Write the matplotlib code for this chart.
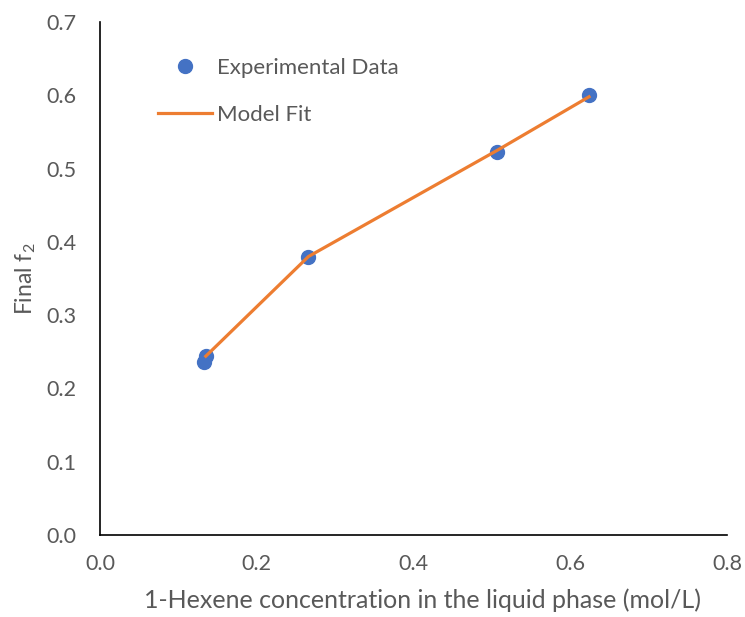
import matplotlib
matplotlib.use("Agg")
import matplotlib.pyplot as plt

plt.rcParams['font.family'] = ['Lato', 'DejaVu Sans']
plt.rcParams['mathtext.fontset'] = 'custom'
plt.rcParams['mathtext.rm'] = 'Lato'
plt.rcParams['mathtext.it'] = 'Lato'

# Measured values
exp_x = [0.133, 0.135, 0.266, 0.507, 0.624]
exp_y = [0.236, 0.244, 0.379, 0.522, 0.601]

# Model predictions
fit_x = [0.135, 0.266, 0.507, 0.624]
fit_y = [0.244, 0.380, 0.525, 0.598]

x_ticks = [0.0, 0.2, 0.4, 0.6, 0.8]
y_ticks = [0.0, 0.1, 0.2, 0.3, 0.4, 0.5, 0.6, 0.7]

text_color = '#595959'
blue = '#4472C4'
orange = '#ED7D31'

fig = plt.figure(figsize=(7.45, 6.17), dpi=100)
ax = fig.add_axes([0.1342, 0.1329, 0.8416, 0.8314])

ax.plot(exp_x, exp_y, 'o', color=blue, markersize=10, label='Experimental Data', zorder=2)
ax.plot(fit_x, fit_y, '-', color=orange, linewidth=2.3, label='Model Fit', zorder=3)

ax.set_xlim(0, 0.8)
ax.set_ylim(0, 0.7)
ax.set_xticks(x_ticks)
ax.set_xticklabels([f'{v:.1f}' for v in x_ticks])
ax.set_yticks(y_ticks)
ax.set_yticklabels([f'{v:.1f}' for v in y_ticks])
ax.tick_params(length=0, labelsize=15.5, labelcolor=text_color)
ax.tick_params(axis='x', pad=14)
ax.tick_params(axis='y', pad=17)

for side in ['top', 'right']:
    ax.spines[side].set_visible(False)
for side in ['left', 'bottom']:
    ax.spines[side].set_color('#000000')
    ax.spines[side].set_linewidth(1.2)

ax.set_xlabel('1-Hexene concentration in the liquid phase (mol/L)', fontsize=18,
              color=text_color, labelpad=8)
ax.xaxis.set_label_coords(0.515, -0.105)
ax.set_ylabel('Final f$_2$', fontsize=16.5, color=text_color, labelpad=6)

leg = ax.legend(loc='upper left', bbox_to_anchor=(158 / 745, 1 - 58 / 617),
                bbox_transform=fig.transFigure, frameon=False, fontsize=16,
                handlelength=2.45, handletextpad=0.2, labelspacing=1.2,
                borderpad=0, borderaxespad=0)
for t in leg.get_texts():
    t.set_color(text_color)

fig.savefig('out.png', dpi=100)
